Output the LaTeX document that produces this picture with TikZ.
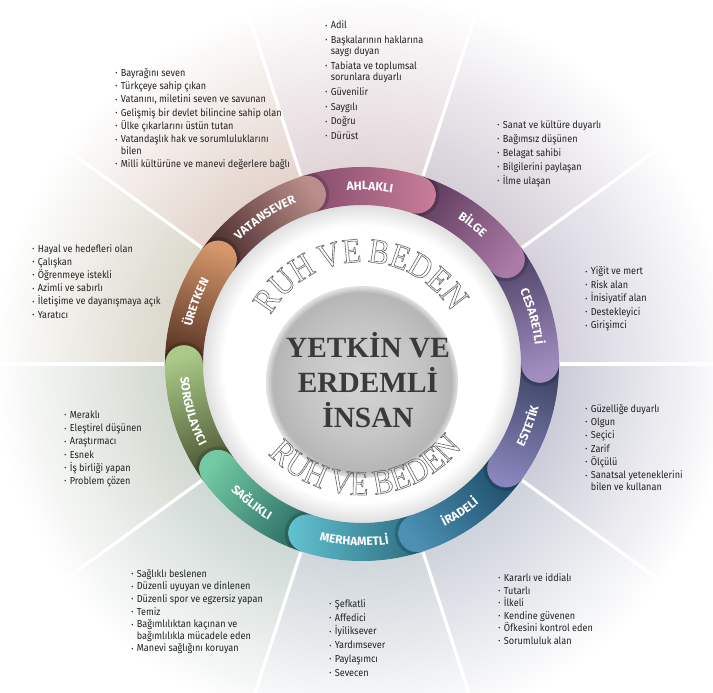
\documentclass[tikz,border=0pt]{standalone}
\usepackage{fontspec}
\usepackage{graphicx}
\setmainfont{Liberation Serif}
\newfontfamily\listfont{Fira Sans}[FakeStretch=0.9]
\newfontfamily\labfont{Fira Sans}[LetterSpace=8]
\newfontfamily\ruhfontA{Liberation Serif}[FakeStretch=0.88, LetterSpace=-6]
\newfontfamily\ruhfontB{Liberation Serif}[FakeStretch=0.88, LetterSpace=-3]
\usetikzlibrary{decorations.text}

% background tints (near the ring)
\definecolor{tA}{RGB}{226,214,217}
\definecolor{tB}{RGB}{214,208,217}
\definecolor{tC}{RGB}{213,210,222}
\definecolor{tD}{RGB}{205,205,218}
\definecolor{tE}{RGB}{207,211,220}
\definecolor{tF}{RGB}{209,215,220}
\definecolor{tG}{RGB}{207,217,213}
\definecolor{tH}{RGB}{211,218,209}
\definecolor{tI}{RGB}{220,217,205}
\definecolor{tJ}{RGB}{228,213,205}
% segment colours
\definecolor{dkA}{HTML}{82496A}\definecolor{ltA}{HTML}{CB7F9B}
\definecolor{dkB}{HTML}{5F3C5C}\definecolor{ltB}{HTML}{AB7AA7}
\definecolor{dkC}{HTML}{4F4266}\definecolor{ltC}{HTML}{A18EC1}
\definecolor{dkD}{HTML}{3F4668}\definecolor{ltD}{HTML}{8A86BD}
\definecolor{dkE}{HTML}{1E4F6A}\definecolor{ltE}{HTML}{4C90B3}
\definecolor{dkF}{HTML}{2A6A7E}\definecolor{ltF}{HTML}{64C4D2}
\definecolor{dkG}{HTML}{2F6E66}\definecolor{ltG}{HTML}{72CAA2}
\definecolor{dkH}{HTML}{4B5634}\definecolor{ltH}{HTML}{AACA88}
\definecolor{dkI}{HTML}{5A3626}\definecolor{ltI}{HTML}{D6986B}
\definecolor{dkJ}{HTML}{4A2C2C}\definecolor{ltJ}{HTML}{BA8E8A}
\definecolor{ringbase}{HTML}{5E4E60}
\definecolor{txtc}{HTML}{222222}
\definecolor{centertxt}{HTML}{3A3A3A}
\definecolor{ruhc}{HTML}{666666}
\definecolor{gdA}{HTML}{D4D4D4}
\definecolor{gdB}{HTML}{C5C5C5}
\definecolor{gdC}{HTML}{B6B6B6}
\definecolor{gdD}{HTML}{E4E4E4}
\definecolor{wdA}{HTML}{DCDCDC}

% radial shadings: 25bp = radius of the shaded circle
\pgfdeclareradialshading{bgA}{\pgfpoint{0bp}{0bp}}{color(0bp)=(tA); color(9.6bp)=(tA); color(17.8bp)=(white); color(50bp)=(white)}
\pgfdeclareradialshading{bgB}{\pgfpoint{0bp}{0bp}}{color(0bp)=(tB); color(9.6bp)=(tB); color(17.8bp)=(white); color(50bp)=(white)}
\pgfdeclareradialshading{bgC}{\pgfpoint{0bp}{0bp}}{color(0bp)=(tC); color(9.6bp)=(tC); color(17.8bp)=(white); color(50bp)=(white)}
\pgfdeclareradialshading{bgD}{\pgfpoint{0bp}{0bp}}{color(0bp)=(tD); color(9.6bp)=(tD); color(17.8bp)=(white); color(50bp)=(white)}
\pgfdeclareradialshading{bgE}{\pgfpoint{0bp}{0bp}}{color(0bp)=(tE); color(9.6bp)=(tE); color(17.8bp)=(white); color(50bp)=(white)}
\pgfdeclareradialshading{bgF}{\pgfpoint{0bp}{0bp}}{color(0bp)=(tF); color(9.6bp)=(tF); color(17.8bp)=(white); color(50bp)=(white)}
\pgfdeclareradialshading{bgG}{\pgfpoint{0bp}{0bp}}{color(0bp)=(tG); color(9.6bp)=(tG); color(17.8bp)=(white); color(50bp)=(white)}
\pgfdeclareradialshading{bgH}{\pgfpoint{0bp}{0bp}}{color(0bp)=(tH); color(9.6bp)=(tH); color(17.8bp)=(white); color(50bp)=(white)}
\pgfdeclareradialshading{bgI}{\pgfpoint{0bp}{0bp}}{color(0bp)=(tI); color(9.6bp)=(tI); color(17.8bp)=(white); color(50bp)=(white)}
\pgfdeclareradialshading{bgJ}{\pgfpoint{0bp}{0bp}}{color(0bp)=(tJ); color(9.6bp)=(tJ); color(17.8bp)=(white); color(50bp)=(white)}
\pgfdeclareradialshading{graydisc}{\pgfpoint{0bp}{0bp}}{color(0bp)=(gdA); color(15bp)=(gdB); color(23.3bp)=(gdC); color(25bp)=(gdD); color(50bp)=(gdD)}
\pgfdeclareradialshading{whitedisc}{\pgfpoint{0bp}{0bp}}{color(0bp)=(white); color(21.5bp)=(white); color(25bp)=(wdA); color(50bp)=(wdA)}

\newcommand\labfmt{\labfont\bfseries\fontsize{9}{9}\selectfont}
\newcommand\ruhfmtA{\ruhfontA\fontsize{26}{26}\selectfont\special{pdf:literal direct 1 Tr 0.45 w}}
\newcommand\ruhfmtB{\ruhfontB\fontsize{26}{26}\selectfont\special{pdf:literal direct 1 Tr 0.45 w}}
\newcommand\bu{\makebox[4.2pt][l]{\raisebox{0.5pt}{\scalebox{0.7}{•}}}}
\newcommand\ind{\hspace*{4.2pt}}

\newcommand\uplabel[2]{%
  \pgfmathsetmacro\labA{#1+15.5}\pgfmathsetmacro\labB{#1-20.5}%
  \path[decorate,decoration={text along path,text={|\labfmt|#2},text align=center,text color=white}]
    (\labA:174) arc[start angle=\labA,end angle=\labB,radius=174];}
\newcommand\lowlabel[2]{%
  \pgfmathsetmacro\labA{#1-20.5}\pgfmathsetmacro\labB{#1+15.5}%
  \path[decorate,decoration={text along path,text={|\labfmt|#2},text align=center,text color=white}]
    (\labA:182) arc[start angle=\labA,end angle=\labB,radius=182];}

\tikzset{
  lst/.style={anchor=north west, inner sep=0pt, align=left, text=txtc,
    font=\listfont\fontsize{7.6}{#1}\selectfont},
  lst/.default=10,
  sepline/.style={white, line width=2.4pt},
  capshadow/.style={black, opacity=0.16, line width=2.5pt},
}

\begin{document}
\begin{tikzpicture}[x=0.75pt,y=0.75pt]
\useasboundingbox (-362,-328) rectangle (351,364);
\clip (-362,-328) rectangle (351,364);

% background sectors
\foreach \k/\sh in {0/bgA,1/bgB,2/bgC,3/bgD,4/bgE,5/bgF,6/bgG,7/bgH,8/bgI,9/bgJ}{
  \pgfmathsetmacro\ss{108-36*\k}
  \pgfmathsetmacro\se{72-36*\k}
  \begin{scope}
    \clip (0,0) -- (\ss:900) arc[start angle=\ss,end angle=\se,radius=900] -- cycle;
    \shade[shading=\sh] (0,0) circle (520);
  \end{scope}
}
% separators
\foreach \b in {72,36,0,-36,-72,-108,-144,180,144,108}{
  \draw[sepline] (\b:198) -- (\b:900);
}

% white disc
\shade[shading=whitedisc] (0,0) circle (161);

% ring base
\fill[ringbase, even odd rule] (0,0) circle (196.5) (0,0) circle (159.5);

% segments
\foreach \k/\dk/\lt in {0/dkA/ltA,1/dkB/ltB,2/dkC/ltC,3/dkD/ltD,4/dkE/ltE,5/dkF/ltF,6/dkG/ltG,7/dkH/ltH,8/dkI/ltI,9/dkJ/ltJ}{
  \pgfmathsetmacro\a{90-36*\k}
  \pgfmathsetmacro\s{\a+18}
  \pgfmathsetmacro\e{\a-18}
  \pgfmathsetmacro\ecap{\a-198}
  \pgfmathsetmacro\sa{\a+198}
  \pgfmathsetmacro\sb{\a+378}
  \shade[top color=\dk, bottom color=\lt, shading angle=\a]
    (\s:197) arc[start angle=\s,end angle=\e,radius=197]
    arc[start angle=\e,end angle=\ecap,radius=19]
    arc[start angle=\e,end angle=\s,radius=159]
    arc[start angle=\sa,end angle=\sb,radius=19] -- cycle;
}
% soft shadows of the rounded ends
\begin{scope}[even odd rule]
  \clip (0,0) circle (197) (0,0) circle (159);
  \foreach \k in {0,...,9}{
    \pgfmathsetmacro\e{72-36*\k}
    \pgfmathsetmacro\ecap{-108-36*\k}
    \draw[capshadow] (\e:198.6) arc[start angle=\e,end angle=\ecap,radius=20.6];
  }
\end{scope}

% ring labels
\uplabel{90}{AHLAKLI}
\uplabel{54}{BİLGE}
\uplabel{18}{CESARETLİ}
\lowlabel{-18}{ESTETİK}
\lowlabel{-54}{İRADELİ}
\lowlabel{-90}{MERHAMETLİ}
\lowlabel{-126}{SAĞLIKLI}
\lowlabel{-162}{SORGULAYICI}
\uplabel{162}{ÜRETKEN}
\uplabel{126}{VATANSEVER}

% gray disc
\shade[shading=graydisc] (0,-18) circle (96);
\node[font=\bfseries\fontsize{22}{26.3}\selectfont, text=centertxt, align=center, inner sep=0pt] (center) at (6,-16) {YETKİN VE\\ERDEMLİ\\İNSAN};

% lists
\node[lst] (vatan) at (-247,296) {\bu Bayrağını seven\\ \bu Türkçeye sahip çıkan\\ \bu Vatanını, miletini seven ve savunan\\ \bu Gelişmiş bir devlet bilincine sahip olan\\ \bu Ülke çıkarlarını üstün tutan\\ \bu Vatandaşlık hak ve sorumluluklarını\\[-1.5pt] \ind bilen\\ \bu Milli kültürüne ve manevi değerlere bağlı};
\node[lst=11] (ahlak) at (-37,343.3) {\bu Adil\\ \bu Başkalarının haklarına\\[-2.5pt] \ind saygı duyan\\ \bu Tabiata ve toplumsal\\[-2.5pt] \ind sorunlara duyarlı\\ \bu Güvenilir\\ \bu Saygılı\\ \bu Doğru\\ \bu Dürüst};
\node[lst=10.6] (bilge) at (135,244) {\bu Sanat ve kültüre duyarlı\\ \bu Bağımsız düşünen\\ \bu Belagat sahibi\\ \bu Bilgilerini paylaşan\\ \bu İlme ulaşan};
\node[lst=9.9] (uretken) at (-330,120) {\bu Hayal ve hedefleri olan\\ \bu Çalışkan\\ \bu Öğrenmeye istekli\\ \bu Azimli ve sabırlı\\ \bu İletişime ve dayanışmaya açık\\ \bu Yaratıcı};
\node[lst=10.1] (cesaret) at (223,97.3) {\bu Yiğit ve mert\\ \bu Risk alan\\ \bu İnisiyatif alan\\ \bu Destekleyici\\ \bu Girişimci};
\node[lst=9.9] (sorgu) at (-298,-46.7) {\bu Meraklı\\ \bu Eleştirel düşünen\\ \bu Araştırmacı\\ \bu Esnek\\ \bu İş birliği yapan\\ \bu Problem çözen};
\node[lst=10] (estetik) at (223,-40) {\bu Güzelliğe duyarlı\\ \bu Olgun\\ \bu Seçici\\ \bu Zarif\\ \bu Ölçülü\\ \bu Sanatsal yeteneklerini\\[-1.5pt] \ind bilen ve kullanan};
\node[lst=9.5] (saglik) at (-231,-205) {\bu Sağlıklı beslenen\\ \bu Düzenli uyuyan ve dinlenen\\ \bu Düzenli spor ve egzersiz yapan\\ \bu Temiz\\ \bu Bağımlılıktan kaçınan ve\\[-1pt] \ind bağımlılıkla mücadele eden\\ \bu Manevi sağlığını koruyan};
\node[lst=10.3] (merhamet) at (-33,-235.3) {\bu Şefkatli\\ \bu Affedici\\ \bu İyiliksever\\ \bu Yardımsever\\ \bu Paylaşımcı\\ \bu Sevecen};
\node[lst=9.4] (irade) at (136,-209.3) {\bu Kararlı ve iddialı\\ \bu Tutarlı\\ \bu İlkeli\\ \bu Kendine güvenen\\ \bu Öfkesini kontrol eden\\ \bu Sorumluluk alan};

% RUH VE BEDEN (outlined)
\path[decorate,decoration={text along path,text={|\ruhfmtA|RUH VE BEDEN},text align=center,text color=ruhc}]
  (0,-3) ++(181:105) arc[start angle=181,end angle=1,radius=105];
\path[decorate,decoration={text along path,text={|\ruhfmtB|RUH VE BEDEN},text align=center,text color=ruhc}]
  (0,-3) ++(-178:128) arc[start angle=-178,end angle=2,radius=128];
\end{tikzpicture}
\end{document}
